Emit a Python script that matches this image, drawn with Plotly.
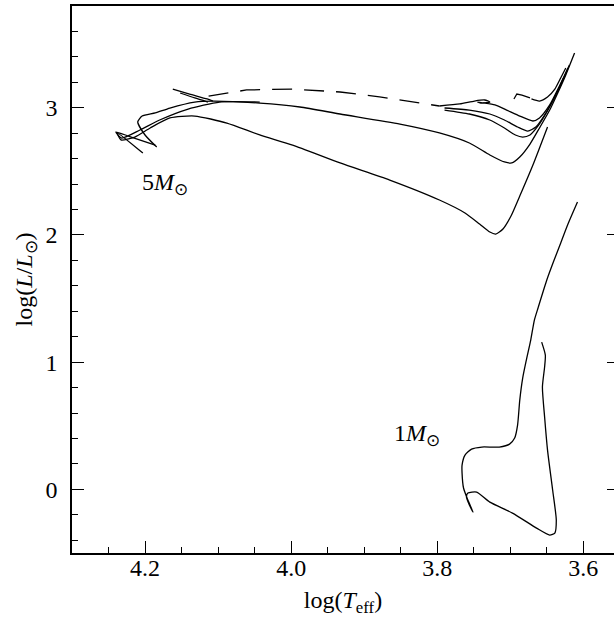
import plotly.graph_objects as go

# ---- 5 Msun tracks (log Teff, log L/Lsun) ----
a_logT = [4.203, 4.238, 4.233, 4.214, 4.193, 4.166, 4.132, 4.088, 4.043, 3.998, 3.933, 3.865,
          3.797, 3.762, 3.742, 3.728, 3.720, 3.710, 3.699, 3.687, 3.669, 3.649]
a_logL = [2.644, 2.802, 2.747, 2.770, 2.841, 2.920, 2.935, 2.880, 2.786, 2.707, 2.566, 2.432,
          2.275, 2.173, 2.086, 2.023, 2.007, 2.047, 2.149, 2.306, 2.550, 2.849]

b_logT = [4.184, 4.200, 4.210, 4.204, 4.186, 4.166, 4.132, 4.107, 4.043, 3.988, 3.933, 3.851,
          3.797, 3.756, 3.728, 3.708, 3.698, 3.687, 3.673, 3.660, 3.646, 3.635, 3.624, 3.612]
b_logL = [2.691, 2.786, 2.888, 2.935, 2.959, 2.998, 3.045, 3.053, 3.037, 3.006, 2.951, 2.872,
          2.802, 2.723, 2.629, 2.574, 2.566, 2.613, 2.715, 2.841, 2.982, 3.116, 3.258, 3.430]

g_logT = [4.186, 4.223, 4.240, 4.232, 4.207, 4.180, 4.141, 4.098, 4.043]
g_logL = [2.707, 2.778, 2.809, 2.762, 2.825, 2.904, 2.990, 3.045, 3.045]

c_logT = [3.790, 3.756, 3.728, 3.708, 3.693, 3.683, 3.673, 3.662, 3.650, 3.638, 3.627]
c_logL = [2.982, 2.951, 2.904, 2.841, 2.786, 2.770, 2.786, 2.857, 2.967, 3.100, 3.234]

d_logT = [3.790, 3.756, 3.728, 3.708, 3.690, 3.676, 3.665, 3.653, 3.639, 3.628, 3.621]
d_logL = [2.998, 2.982, 2.951, 2.904, 2.849, 2.817, 2.849, 2.943, 3.085, 3.218, 3.313]

e_hook_logT = [4.162, 4.139, 4.115, 4.107]
e_hook_logL = [3.147, 3.108, 3.069, 3.053]

e_hook2_logT = [4.152, 4.132, 4.114]
e_hook2_logL = [3.116, 3.077, 3.045]

e_dash_logT = [4.113, 4.061, 3.998, 3.933, 3.879, 3.797]
e_dash_logL = [3.092, 3.140, 3.147, 3.124, 3.085, 3.014]

e_logT = [3.797, 3.769, 3.749, 3.735, 3.728, 3.739, 3.745, 3.721, 3.705, 3.687, 3.669, 3.660,
          3.646, 3.632, 3.619]
e_logL = [3.014, 3.030, 3.053, 3.061, 3.045, 3.037, 3.045, 3.022, 2.982, 2.935, 2.896, 2.920,
          3.022, 3.179, 3.336]

f_dash_logT = [3.695, 3.691, 3.684, 3.673]
f_dash_logL = [3.069, 3.108, 3.100, 3.077]

f_logT = [3.671, 3.660, 3.649, 3.639, 3.631, 3.624]
f_logL = [3.069, 3.053, 3.085, 3.147, 3.234, 3.313]

# ---- 1 Msun track ----
m1_logT = [3.657, 3.652, 3.653, 3.656, 3.653, 3.649, 3.642, 3.637, 3.639, 3.646, 3.664, 3.697,
           3.728, 3.746, 3.758, 3.760, 3.756, 3.751, 3.758, 3.764, 3.766, 3.766, 3.762, 3.753,
           3.739, 3.715, 3.701, 3.694, 3.690, 3.687, 3.683, 3.678, 3.672, 3.667, 3.662, 3.650,
           3.641, 3.632, 3.621, 3.608]
m1_logL = [1.158, 1.056, 0.962, 0.805, 0.569, 0.309, -0.005, -0.241, -0.343, -0.359, -0.304, -0.186,
           -0.100, -0.021, -0.029, -0.060, -0.123, -0.178, -0.084, 0.011, 0.128, 0.191, 0.270, 0.317,
           0.333, 0.333, 0.356, 0.404, 0.506, 0.702, 0.875, 1.017, 1.174, 1.331, 1.426, 1.646,
           1.787, 1.921, 2.086, 2.259]

x_range = [4.3, 3.558]
y_range = [-0.5, 3.8]

labels = [("5<i>M</i><sub>⊙</sub>", 4.207, 2.40), ("1<i>M</i><sub>⊙</sub>", 3.862, 0.427)]

FONT = "Liberation Serif, Times New Roman, serif"
TICKFONT = dict(family=FONT, size=24, color="black")
fig = go.Figure()

solid = [(a_logT, a_logL), (b_logT, b_logL), (g_logT, g_logL), (c_logT, c_logL),
         (d_logT, d_logL), (e_hook_logT, e_hook_logL), (e_hook2_logT, e_hook2_logL),
         (e_logT, e_logL), (f_logT, f_logL), (m1_logT, m1_logL)]
dashed = [(e_dash_logT, e_dash_logL), (f_dash_logT, f_dash_logL)]

for xs, ys in solid:
    fig.add_trace(go.Scatter(x=xs, y=ys, mode="lines",
                             line=dict(color="black", width=1.3, shape="spline", smoothing=0.6),
                             showlegend=False, hoverinfo="skip"))
for xs, ys in dashed:
    fig.add_trace(go.Scatter(x=xs, y=ys, mode="lines",
                             line=dict(color="black", width=1.3, dash="20px,12px"),
                             showlegend=False, hoverinfo="skip"))

# invisible trace on the right-hand tick axis
fig.add_trace(go.Scatter(x=[None], y=[None], yaxis="y2", showlegend=False, hoverinfo="skip"))

for text, xv, yv in labels:
    fig.add_annotation(x=xv, y=yv, text=text, showarrow=False, xanchor="left", yanchor="middle",
                       font=dict(family=FONT, size=24, color="black"))

fig.update_layout(
    width=614, height=617,
    margin=dict(l=72, r=0, t=6, b=64, autoexpand=False),
    paper_bgcolor="white", plot_bgcolor="white",
    font=dict(family=FONT, size=24, color="black"),
    xaxis=dict(range=x_range, automargin=False, showgrid=False, zeroline=False, showline=True,
               linewidth=1.8, linecolor="black", mirror=True, ticks="inside", ticklen=12,
               tickwidth=1.2, tickcolor="black", dtick=0.2, tick0=3.6, tickformat=".1f",
               tickfont=TICKFONT, ticklabelstandoff=-8,
               minor=dict(dtick=0.05, ticks="inside", ticklen=6, tickwidth=1.2, tickcolor="black"),
               title=dict(text="log(<i>T</i><sub>eff</sub>)", standoff=11,
                          font=dict(family=FONT, size=24, color="black"))),
    yaxis=dict(range=y_range, automargin=False, showgrid=False, zeroline=False, showline=True,
               linewidth=1.6, linecolor="black", ticks="inside", ticklen=12, tickwidth=1.2,
               tickcolor="black", dtick=1, tick0=0, tickfont=TICKFONT, ticklabelstandoff=8,
               minor=dict(dtick=0.2, ticks="inside", ticklen=6, tickwidth=1.2, tickcolor="black"),
               title=dict(text="log(<i>L</i>/<i>L</i><sub>⊙</sub>)", standoff=6,
                          font=dict(family=FONT, size=24, color="black"))),
    yaxis2=dict(range=y_range, overlaying="y", side="right", anchor="x", automargin=False,
                showgrid=False, zeroline=False, showline=False, ticks="inside", ticklen=7,
                tickwidth=1.2, tickcolor="black", dtick=1, tick0=0, showticklabels=False),
)

fig.write_html("out.html", config={"displayModeBar": False},
               post_script="document.body.style.margin='0';document.body.style.overflow='hidden';")
